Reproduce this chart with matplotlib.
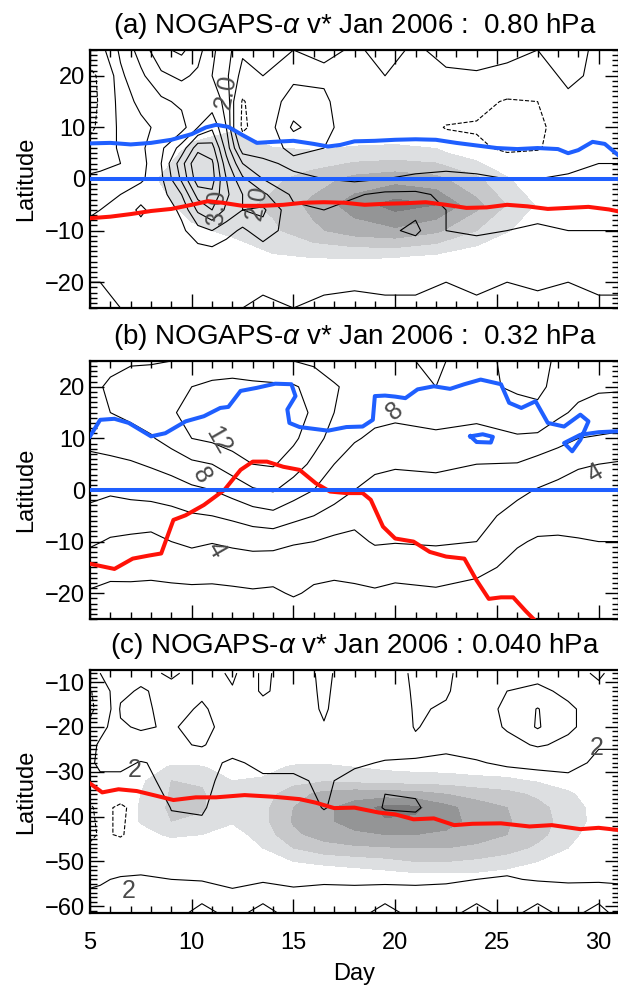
import numpy as np
import matplotlib
matplotlib.use('Agg')
import matplotlib.pyplot as plt
from matplotlib.ticker import MultipleLocator

plt.rcParams['font.family'] = ['Liberation Sans', 'DejaVu Sans']
plt.rcParams['mathtext.fontset'] = 'custom'
plt.rcParams['mathtext.rm'] = 'Liberation Sans'
plt.rcParams['mathtext.it'] = 'Liberation Sans:italic'

# ---------------- panel (a) : 0.80 hPa ----------------
lat_a = [25, 20, 15, 10, 6, 3, 0, -3, -6, -10, -15, -20, -25]
day_a = [5, 5.5, 6.5, 7.5, 8.5, 9.5, 10.3, 11, 11.7, 12.5, 13.5, 15, 16.5,
         18, 19.5, 21, 22.5, 24, 25.5, 27, 28.5, 30, 31]
# v*, one list per day column (north -> south)
vstar_a = [
    [0.2, -0.8, -0.8, -0.7, -0.2, 0.3, 0.6, 0.8, 0.9, 1.2, 1.3, 1.5, 1.6],
    [0.3, -0.3, -0.4, -0.3, 0.1, 0.4, 0.6, 0.9, 1.0, 1.1, 1.3, 1.5, 1.6],
    [1.1, 0.9, 0.8, 0.7, 0.6, 0.5, 0.6, 1.0, 1.2, 1.1, 1.2, 1.4, 1.5],
    [1.7, 1.4, 1.1, 0.9, 0.9, 0.8, 0.9, 1.3, 1.6, 1.3, 1.2, 1.3, 1.5],
    [2.4, 1.9, 1.4, 1.1, 1.4, 1.5, 1.4, 1.3, 1.2, 1.2, 1.1, 1.3, 1.5],
    [2.6, 2.1, 1.6, 1.3, 2.2, 2.8, 2.6, 2.0, 1.6, 1.4, 1.1, 1.2, 1.4],
    [2.2, 1.9, 1.6, 2.0, 3.3, 4.0, 3.8, 3.2, 2.6, 1.8, 1.2, 1.2, 1.4],
    [1.6, 1.5, 1.7, 2.4, 3.2, 3.6, 3.7, 3.4, 3.0, 2.0, 1.2, 1.2, 1.4],
    [1.2, 1.1, 1.4, 1.5, 1.8, 2.2, 2.5, 2.6, 2.4, 1.7, 1.1, 1.3, 1.5],
    [0.6, 0.3, -0.6, -0.7, 0.2, 1.0, 1.6, 2.0, 2.0, 1.4, 1.1, 1.4, 1.5],
    [0.7, 0.5, 0.2, 0.1, 0.3, 0.6, 1.0, 1.6, 2.1, 1.8, 1.1, 1.4, 1.6],
    [0.5, 0.4, 0.7, 1.1, 0.6, 0.4, 0.6, 0.9, 1.1, 1.2, 1.1, 1.3, 1.5],
    [0.6, 0.4, 0.6, 0.7, 0.5, 0.4, 0.5, 0.8, 1.0, 1.1, 1.1, 1.4, 1.6],
    [0.45, 0.3, 0.1, 0.1, 0.2, 0.3, 0.4, 0.95, 1.15, 1.2, 1.1, 1.45, 1.6],
    [0.6, 0.5, 0.2, 0.1, 0.2, 0.3, 0.5, 1.1, 1.3, 1.4, 1.2, 1.4, 1.6],
    [0.45, 0.4, 0.1, 0.0, 0.2, 0.3, 0.6, 1.1, 1.4, 1.6, 1.1, 1.4, 1.6],
    [0.6, 0.45, 0.0, -0.55, 0.0, 0.3, 0.7, 0.9, 1.0, 1.0, 1.2, 1.5, 1.6],
    [0.7, 0.45, -0.2, -0.6, -0.3, 0.3, 0.6, 0.7, 0.8, 0.95, 1.2, 1.4, 1.6],
    [0.6, 0.4, -0.6, -0.8, -0.7, 0.0, 0.5, 0.7, 0.9, 1.0, 1.3, 1.5, 1.6],
    [0.5, 0.3, -0.5, -0.7, -0.6, 0.1, 0.5, 0.8, 0.9, 1.05, 1.25, 1.45, 1.6],
    [0.7, 0.6, 0.4, 0.0, 0.1, 0.3, 0.6, 0.8, 0.9, 1.0, 1.2, 1.5, 1.6],
    [0.4, 0.4, 0.3, 0.3, 0.4, 0.5, 0.6, 0.8, 0.9, 1.0, 1.2, 1.4, 1.6],
    [0.5, 0.4, 0.3, 0.3, 0.4, 0.5, 0.55, 0.7, 0.85, 1.0, 1.2, 1.4, 1.6],
]
levels_a = [-1.0, -0.5, 0.5, 1.0, 1.5, 2.0, 2.5, 3.0, 3.5, 4.0]

shade_lat_a = [10, 5, 0, -5, -10, -15, -20]
shade_day_a = [6, 8, 10, 12, 14, 16, 18, 20, 22, 24, 26, 28, 30]
shade_a = [
    [0, 0, 0.6, 0.9, 0.3, 0.2, 0.2, 0.2, 0.1, 0, 0, 0, 0],
    [0, 0.3, 1.3, 1.5, 1.2, 1.1, 1.3, 1.4, 1.2, 0.5, 0, 0, 0],
    [0, 0.9, 1.5, 1.6, 1.8, 2.5, 3.3, 3.6, 3.3, 2.2, 0.8, 0, 0],
    [0, 0.5, 1.4, 1.7, 2.2, 3.3, 4.5, 5.4, 5.0, 3.3, 1.5, 0.3, 0],
    [0, 0, 0.8, 1.2, 1.8, 2.8, 3.5, 3.8, 3.2, 2.0, 0.8, 0, 0],
    [0, 0, 0, 0.4, 0.9, 1.05, 1.1, 1.05, 0.8, 0.3, 0, 0, 0],
    [0, 0, 0, 0, 0, 0, 0, 0, 0, 0, 0, 0, 0],
]

red_day_a = [5, 6, 7, 8, 9, 10, 10.8, 11.5, 12.5, 13.5, 14.5, 15.5, 16.5, 17.5,
             18.5, 19.5, 20.5, 21.5, 22.5, 23.5, 24.5, 25.5, 26.5, 27.5, 28.5,
             29.5, 30.5, 31]
red_lat_a = [-7.6, -7.3, -6.8, -6.2, -5.8, -5.0, -4.3, -4.6, -5.2, -5.2, -5.0,
             -4.6, -4.5, -4.6, -5.0, -4.8, -4.7, -4.5, -5.0, -5.6, -5.5, -5.0,
             -5.3, -5.8, -5.6, -5.4, -5.9, -6.3]
blue_day_a = [5, 6, 7, 8, 9, 10, 10.7, 11.2, 11.8, 12.5, 13.2, 14, 15, 16, 16.7,
              17.3, 18, 19, 20, 21, 22, 23, 24, 25, 26, 27, 28, 28.5, 29, 29.7,
              30.3, 31]
blue_lat_a = [6.9, 7.0, 6.7, 7.0, 7.6, 8.7, 10.0, 10.5, 10.1, 8.5, 7.0, 7.2,
              7.4, 6.8, 6.3, 6.6, 7.3, 7.4, 7.6, 7.7, 7.6, 7.0, 6.5, 6.0, 5.8,
              6.0, 5.8, 5.0, 5.6, 7.2, 6.8, 4.5]

# ---------------- panel (b) : 0.32 hPa ----------------
lat_b = [25, 20, 15, 10, 5, 0, -5, -10, -15, -20, -25]
day_b = [5, 6, 7, 8, 9, 10, 11, 12, 13, 14, 15, 16, 17, 18, 19, 20, 22, 24,
         26, 27, 28, 29, 30, 31]
vstar_b = [
    [9.0, 9.5, 9.5, 8.5, 7.5, 6.5, 5.5, 4.3, 3.0, 1.8, 1.0],
    [9.5, 10.3, 10.0, 8.8, 7.6, 6.3, 5.0, 3.8, 2.6, 1.5, 0.8],
    [9.8, 10.8, 10.5, 9.2, 7.8, 6.6, 5.0, 3.6, 2.5, 1.6, 0.8],
    [9.8, 11.2, 11.0, 9.8, 8.2, 6.8, 5.0, 3.4, 2.4, 1.6, 0.8],
    [10.0, 11.5, 11.8, 10.8, 8.8, 7.0, 5.4, 4.0, 2.6, 1.6, 0.8],
    [10.2, 12.0, 12.6, 12.0, 9.6, 7.6, 5.8, 4.4, 2.8, 1.6, 0.8],
    [10.5, 12.5, 13.2, 12.4, 10.0, 8.0, 6.0, 4.1, 2.7, 1.6, 0.8],
    [10.4, 12.8, 13.5, 13.0, 11.0, 8.8, 6.4, 4.4, 2.8, 1.7, 0.8],
    [10.0, 12.6, 13.6, 13.2, 12.0, 9.8, 7.0, 4.6, 3.0, 1.8, 0.9],
    [10.0, 12.4, 13.4, 13.0, 12.2, 10.2, 7.4, 4.6, 2.9, 1.7, 0.9],
    [10.0, 12.2, 13.0, 12.4, 11.0, 9.0, 6.6, 4.2, 2.7, 2.2, 0.8],
    [9.6, 11.4, 11.6, 10.8, 9.5, 8.0, 6.0, 4.0, 2.6, 1.7, 0.9],
    [9.0, 10.2, 10.0, 9.2, 8.0, 7.0, 5.2, 3.6, 2.4, 1.6, 0.9],
    [8.8, 9.4, 9.0, 8.2, 7.0, 6.0, 4.6, 3.5, 2.5, 1.7, 0.9],
    [9.0, 9.2, 8.6, 7.6, 6.4, 5.4, 4.4, 4.2, 2.8, 1.8, 1.0],
    [9.8, 9.6, 8.4, 7.4, 6.2, 5.2, 4.5, 4.1, 2.6, 1.6, 0.9],
    [10.2, 10.0, 8.8, 7.6, 6.4, 5.2, 4.6, 4.2, 3.0, 1.7, 0.9],
    [9.4, 9.4, 8.6, 7.2, 6.0, 5.0, 4.6, 4.0, 2.6, 1.2, 0.6],
    [10.6, 10.4, 9.0, 7.8, 5.9, 4.4, 3.4, 2.2, 1.4, 0.8, 0.4],
    [10.8, 10.6, 9.4, 7.6, 5.2, 3.9, 2.8, 1.8, 1.1, 0.6, 0.3],
    [9.6, 9.2, 8.4, 6.8, 4.6, 3.6, 2.6, 1.8, 1.1, 0.6, 0.3],
    [9.0, 8.6, 7.6, 6.0, 4.2, 3.2, 2.6, 1.9, 1.2, 0.7, 0.3],
    [8.6, 8.2, 7.4, 5.8, 4.0, 3.2, 2.6, 2.0, 1.2, 0.7, 0.3],
    [8.6, 8.2, 7.2, 5.6, 3.8, 3.0, 2.6, 2.0, 1.2, 0.7, 0.3],
]
levels_b = [2, 4, 6, 8, 10, 12]

red_day_b = [5, 6.2, 7.1, 7.9, 8.5, 9.1, 9.7, 10.6, 11.6, 12.4, 13, 13.7, 14.5,
             15.3, 16.1, 16.8, 17.6, 18.4, 18.8, 19.4, 20, 20.9, 21.7, 22.5,
             23.4, 24, 24.6, 25.2, 25.8, 26.4, 26.8]
red_lat_b = [-14.3, -15.3, -13.3, -12.7, -12.3, -5.8, -4.9, -2.9, 0, 3.9, 5.5,
             5.5, 4.5, 3.9, 1.3, -0.3, -0.6, -0.6, -1.9, -7.1, -9.4, -10,
             -12, -12.9, -13.3, -17.5, -21.1, -20.8, -20.8, -23.4, -25]
blue_day_b = [5.0, 5.5, 6.2, 6.9, 8.0, 8.7, 9.7, 10.6, 11.4, 11.8, 12.4, 13.2,
              14.1, 14.9, 15.1, 14.7, 14.8, 15.3, 16.7, 17.6, 18.4, 18.9, 19.0,
              19.5, 20.0, 20.5, 21.1, 21.9, 22.7, 23.4, 24.2, 25.2, 25.6, 26.2,
              26.9, 27.5, 28.3, 29.1, 29.5, 29.1, 28.7, 28.3, 29.1, 30.0, 31.0]
blue_lat_b = [10.4, 13.6, 13.8, 13.0, 10.4, 11.0, 13.3, 14.3, 15.9, 16.1,
              19.2, 19.8, 20.6, 20.5, 18.2, 15.6, 13.0, 12.2, 11.5, 12.2, 12.3,
              13.6, 18.2, 18.3, 18.1, 17.8, 19.5, 20.1, 19.6, 20.5, 21.4, 20.5,
              16.9, 15.9, 17.2, 13.0, 12.3, 14.6, 13.3, 9.7, 7.5, 9.1, 10.7,
              11.2, 11.4]
loop_day_b = [23.7, 24.3, 24.8, 24.7, 24.0, 23.7]
loop_lat_b = [10.4, 10.8, 10.3, 9.2, 9.3, 10.4]

# ---------------- panel (c) : 0.040 hPa ----------------
lat_c = [-8, -12, -16, -20, -24, -28, -32, -38, -44, -50, -54, -58, -62]
day_c = [5, 5.5, 6.5, 7.5, 9, 10.5, 12, 13.5, 15, 16.5, 18, 19.5, 21, 22.5,
         24, 25.5, 27, 28.5, 30, 31]
vstar_c = [
    [1.0, -2.5, -3.0, -1.0, 1.0, 1.5, 1.0, -2.5, -3.0, 0.5, 1.5, 2.5, 3.0],
    [2.0, 0.5, -0.5, 1.0, 2.5, 2.6, 1.4, -1.0, -1.5, 0.8, 1.8, 2.4, 2.8],
    [3.0, 3.6, 4.2, 3.8, 3.0, 2.4, 1.6, -2.6, -2.3, 0.9, 2.2, 2.2, 2.6],
    [3.4, 4.2, 4.5, 4.2, 3.2, 1.9, 1.6, -0.6, -0.5, 1.1, 2.3, 2.1, 2.5],
    [4.3, 3.4, 3.2, 3.8, 3.6, 2.4, 2.4, 2.1, 1.2, 1.3, 2.0, 2.2, 2.6],
    [3.2, 3.6, 4.3, 4.7, 4.2, 2.4, 2.3, 2.2, 1.5, 1.4, 1.9, 3.0, 5.8],
    [1.6, 2.2, 2.8, 3.0, 2.6, 1.8, 1.6, 0.9, 1.0, 1.4, 1.7, 2.3, 3.0],
    [4.4, 4.3, 3.2, 2.8, 2.6, 2.3, 1.8, 1.0, 1.0, 1.3, 1.8, 3.0, 5.8],
    [3.0, 3.0, 3.0, 2.8, 2.6, 2.3, 1.8, 0.9, 0.9, 1.4, 1.7, 2.4, 2.8],
    [1.6, 1.7, 1.8, 2.1, 2.6, 2.3, 2.2, 2.1, 0.8, 1.3, 1.8, 2.5, 3.0],
    [3.0, 3.1, 3.2, 3.0, 2.6, 2.2, 1.6, 1.1, 0.9, 1.2, 1.7, 2.6, 2.9],
    [3.2, 3.4, 3.5, 3.2, 2.6, 1.9, 1.9, 2.1, 0.9, 1.2, 1.6, 3.0, 5.8],
    [1.6, 1.7, 1.8, 1.9, 2.3, 1.9, 1.6, 2.2, 1.0, 1.3, 1.7, 2.6, 3.0],
    [1.7, 1.8, 2.2, 2.6, 2.4, 1.6, 1.3, 1.1, 0.9, 1.4, 1.8, 2.6, 3.0],
    [3.0, 3.2, 3.3, 3.0, 2.5, 1.9, 1.4, 1.0, 0.9, 1.5, 2.0, 3.0, 5.8],
    [3.2, 4.0, 4.3, 4.2, 3.4, 2.2, 1.3, 1.0, 1.0, 1.6, 2.1, 2.8, 3.0],
    [3.4, 4.4, 6.1, 6.2, 4.2, 2.4, 1.4, 1.0, 1.0, 1.4, 1.9, 3.0, 5.8],
    [3.0, 3.6, 4.3, 4.3, 3.6, 2.5, 1.6, 1.0, 1.0, 1.4, 1.8, 2.8, 3.0],
    [1.6, 2.6, 3.2, 3.2, 2.1, 1.7, 1.6, 1.1, 1.0, 1.4, 1.8, 3.0, 5.8],
    [3.0, 3.2, 3.4, 3.2, 2.1, 1.7, 1.6, 1.1, 1.0, 1.4, 1.8, 2.6, 3.0],
]
levels_c = [-6, -4, -2, 2, 4, 6]

shade_lat_c = [-26, -29, -32, -35, -38, -41, -44, -47, -50, -53, -56]
shade_day_c = [6, 7.5, 9, 10.5, 12, 13.5, 15, 16.5, 18, 19.5, 21, 22.5, 24,
               25.5, 27, 28.5, 30]
shade_c = [
    [0, 0, 0, 0, 0, 0, 0, 0, 0, 0, 0, 0, 0, 0, 0, 0, 0],
    [0, 0, 1.2, 1.1, 0.3, 0.5, 1.2, 1.3, 1.0, 0.8, 0.7, 0.6, 0.5, 0.4, 0.2, 0, 0],
    [0, 0.8, 2.0, 1.9, 1.0, 1.2, 1.6, 1.9, 1.7, 1.6, 1.5, 1.5, 1.3, 1.2, 0.9, 0.4, 0],
    [0, 1.0, 2.1, 2.1, 1.2, 1.5, 2.6, 3.3, 3.6, 3.5, 3.4, 3.0, 2.6, 2.3, 1.8, 1.2, 0.3],
    [0, 1.1, 2.2, 2.1, 1.3, 1.7, 3.0, 3.8, 4.4, 5.3, 5.2, 4.3, 3.5, 3.0, 2.3, 1.5, 0.6],
    [0, 1.1, 2.0, 1.8, 1.1, 1.7, 3.1, 3.8, 4.4, 4.9, 4.8, 4.4, 3.6, 3.1, 2.4, 1.6, 0.6],
    [0, 0.6, 1.2, 1.0, 0.6, 1.4, 2.8, 3.4, 3.8, 4.0, 4.0, 3.8, 3.4, 3.0, 2.3, 1.4, 0.3],
    [0, 0, 0.3, 0.3, 0.2, 1.0, 2.0, 2.6, 2.8, 2.9, 3.0, 3.0, 2.8, 2.4, 1.8, 1.0, 0],
    [0, 0, 0, 0, 0, 0.3, 1.0, 1.3, 1.5, 1.7, 2.0, 2.0, 1.8, 1.5, 1.0, 0.3, 0],
    [0, 0, 0, 0, 0, 0, 0, 0.2, 0.4, 0.6, 0.8, 0.8, 0.8, 0.6, 0.3, 0, 0],
    [0, 0, 0, 0, 0, 0, 0, 0, 0, 0, 0, 0, 0, 0, 0, 0, 0],
]

red_day_c = [5, 5.6, 6.4, 7.3, 8.3, 9.1, 10.2, 11.2, 12.6, 14.1, 15.3, 16.1,
             17, 18, 19.2, 20, 20.9, 21.9, 22.9, 23.8, 25.2, 26.6, 27.7, 29.1,
             30, 31]
red_lat_c = [-32.6, -34.6, -33.9, -34.3, -35.4, -36.3, -35.7, -35.7, -35.2,
             -35.6, -36.1, -36.9, -38.1, -38.0, -39.1, -39.5, -40.6, -40.4,
             -41.9, -41.6, -41.5, -42.2, -41.9, -42.8, -42.5, -43.0]

shade_levels = [1, 2, 3, 4, 5, 10]
grays = ['#dddfe1', '#c7c8ca', '#aeafb1', '#949596', '#7b7b7c']

titles = ['(a) NOGAPS-$\\alpha$ v* Jan 2006 :  0.80 hPa',
          '(b) NOGAPS-$\\alpha$ v* Jan 2006 :  0.32 hPa',
          '(c) NOGAPS-$\\alpha$ v* Jan 2006 : 0.040 hPa']

W, H = 618, 988
fig = plt.figure(figsize=(W / 100, H / 100), dpi=100)
ax_a = fig.add_axes([90 / W, 1 - 308 / H, 529 / W, 258 / H])
ax_b = fig.add_axes([90 / W, 1 - 619 / H, 529 / W, 258 / H])
ax_c = fig.add_axes([90 / W, 1 - 913 / H, 529 / W, 243 / H])

RED = '#ff1208'
BLUE = '#1f5fff'


def style(ax, ylim, title):
    ax.set_xlim(5, 31)
    ax.set_ylim(*ylim)
    ax.xaxis.set_major_locator(MultipleLocator(5))
    ax.xaxis.set_minor_locator(MultipleLocator(1))
    ax.yaxis.set_major_locator(MultipleLocator(10))
    ax.yaxis.set_minor_locator(MultipleLocator(1))
    ax.tick_params(which='both', direction='in', top=True, right=True,
                   width=1.0, labelsize=17)
    ax.tick_params(which='major', length=10)
    ax.tick_params(which='minor', length=5)
    for s in ax.spines.values():
        s.set_linewidth(1.6)
    ax.set_ylabel('Latitude', fontsize=17, labelpad=6)
    ax.set_title(title, fontsize=20, pad=12)


def draw_lines(ax, X, Y, Z, levels):
    ls = ['dashed' if l < 0 else 'solid' for l in levels]
    ax.contour(X, Y, Z, levels=levels, colors='k', linewidths=0.8,
               linestyles=ls, zorder=3)


lab = dict(color='#4a4a4a', fontsize=18, ha='center', va='center', zorder=4)

# panel a
ax_a.contourf(shade_day_a, shade_lat_a, shade_a, levels=shade_levels,
              colors=grays, zorder=1)
draw_lines(ax_a, day_a, lat_a, np.array(vstar_a).T, levels_a)
ax_a.plot(red_day_a, red_lat_a, color=RED, lw=2.9, zorder=5)
ax_a.plot(blue_day_a, blue_lat_a, color=BLUE, lw=2.9, zorder=5)
ax_a.plot([5, 31], [0, 0], color=BLUE, lw=2.9, zorder=5)
ax_a.text(11.7, 17, '2.0', rotation=80, **lab)
ax_a.text(11.2, -5.5, '3.0', rotation=88, **lab)
ax_a.text(13.2, -4.5, '2.0', rotation=80, **lab)
style(ax_a, (-25, 25), titles[0])
ax_a.set_yticks([-20, -10, 0, 10, 20])
ax_a.tick_params(axis='x', labelbottom=False)

# panel b
draw_lines(ax_b, day_b, lat_b, np.array(vstar_b).T, levels_b)
ax_b.plot(red_day_b, red_lat_b, color=RED, lw=2.9, zorder=5)
ax_b.plot(blue_day_b, blue_lat_b, color=BLUE, lw=2.9, zorder=5)
ax_b.plot(loop_day_b, loop_lat_b, color=BLUE, lw=2.9, zorder=5)
ax_b.plot([5, 31], [0, 0], color=BLUE, lw=2.9, zorder=5)
ax_b.text(11.3, 9.5, '12', rotation=-60, **lab)
ax_b.text(10.5, 2.8, '8', rotation=-60, **lab)
ax_b.text(11.2, -11.5, '4', rotation=-60, **lab)
ax_b.text(20.0, 15.3, '8', rotation=40, **lab)
ax_b.text(29.8, 3.2, '4', rotation=30, **lab)
style(ax_b, (-25, 25), titles[1])
ax_b.set_yticks([-20, -10, 0, 10, 20])
ax_b.tick_params(axis='x', labelbottom=False)

# panel c
ax_c.contourf(shade_day_c, shade_lat_c, shade_c, levels=shade_levels,
              colors=grays, zorder=1)
draw_lines(ax_c, day_c, lat_c, np.array(vstar_c).T, levels_c)
ax_c.plot(red_day_c, red_lat_c, color=RED, lw=2.9, zorder=5)
ax_c.text(7.2, -29.6, '2', **lab)
ax_c.text(29.9, -24.6, '2', **lab)
ax_c.text(6.9, -56.5, '2', **lab)
style(ax_c, (-61.5, -7.3), titles[2])
ax_c.set_yticks([-60, -50, -40, -30, -20, -10])
ax_c.tick_params(axis='x', pad=14)
ax_c.set_xlabel('Day', fontsize=17, labelpad=6)

fig.savefig('out.png', dpi=100)
